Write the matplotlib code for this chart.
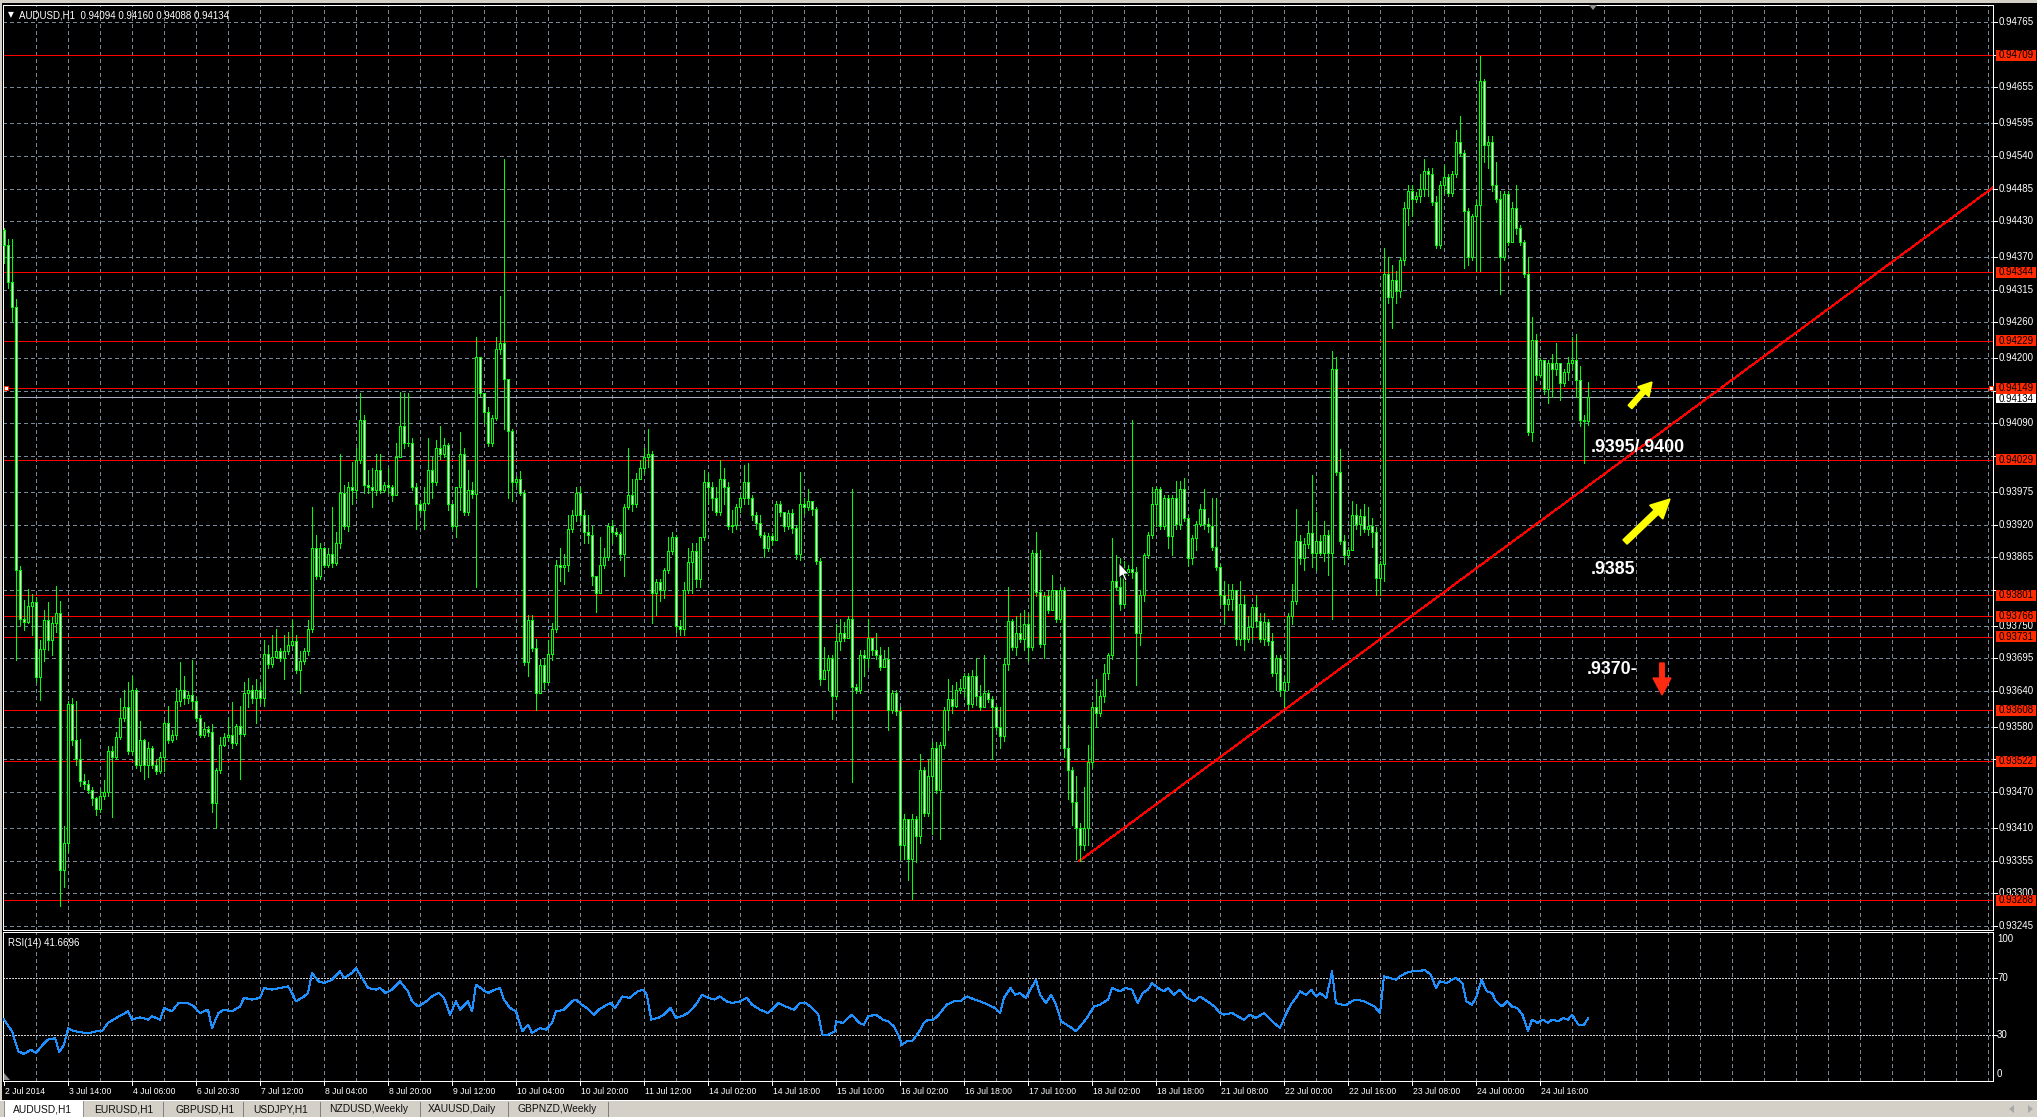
import numpy as np
import matplotlib
matplotlib.use("Agg")
import matplotlib.pyplot as plt
from matplotlib import font_manager
from matplotlib.patches import Rectangle, FancyArrow, Polygon

# ---------------- data ----------------
# prices are given in points above 0.93000  (price = 0.93 + pts / 100000)
first_open_pts = 1415
close_pts = [
    1390, 1328, 1286, 844, 762, 757, 783, 790, 664, 710, 760, 726, 754, 771, 339, 385, 619, 558, 525, 488,
    483, 474, 460, 441, 464, 470, 539, 530, 563, 595, 614, 539, 642, 516, 558, 516, 544, 516, 506, 530,
    586, 558, 567, 623, 642, 628, 633, 624, 595, 567, 577, 572, 451, 507, 549, 563, 567, 553, 581, 568,
    637, 642, 628, 642, 628, 703, 685, 697, 708, 696, 708, 718, 725, 675, 690, 707, 745, 880, 833, 880,
    852, 871, 856, 889, 973, 917, 983, 978, 1029, 1095, 987, 983, 978, 1011, 978, 987, 983, 969, 1034, 1085,
    1057, 1057, 983, 955, 945, 956, 1011, 992, 1048, 1039, 1053, 955, 917, 983, 1039, 941, 978, 971, 1202, 1141,
    1109, 1057, 1099, 1216, 1225, 1164, 1078, 992, 996, 973, 689, 759, 712, 637, 684, 656, 703, 745, 852, 848,
    852, 913, 936, 973, 936, 908, 903, 833, 805, 852, 866, 917, 908, 904, 871, 950, 969, 955, 997, 1015,
    1034, 1039, 805, 824, 810, 843, 875, 899, 749, 745, 810, 857, 876, 829, 899, 992, 983, 964, 941, 997,
    983, 917, 920, 950, 964, 992, 964, 936, 922, 903, 880, 901, 894, 955, 941, 918, 940, 915, 870, 955,
    950, 960, 946, 859, 661, 675, 695, 632, 724, 738, 729, 762, 647, 642, 700, 695, 729, 709, 700, 680,
    694, 608, 637, 607, 381, 425, 357, 425, 396, 507, 435, 497, 545, 473, 550, 608, 627, 615, 642, 646,
    666, 618, 666, 632, 613, 637, 627, 613, 579, 564, 685, 758, 714, 738, 727, 752, 714, 873, 806, 719,
    800, 777, 810, 762, 810, 545, 507, 454, 410, 381, 410, 521, 613, 603, 632, 671, 700, 825, 815, 786,
    840, 845, 840, 738, 801, 868, 902, 955, 979, 917, 965, 900, 965, 921, 980, 931, 864, 898, 921, 946,
    921, 917, 883, 849, 801, 786, 795, 810, 728, 786, 728, 748, 781, 758, 728, 757, 724, 671, 695, 642,
    656, 767, 791, 893, 864, 888, 906, 873, 892, 873, 902, 873, 1182, 1008, 893, 868, 878, 936, 921, 935,
    912, 917, 907, 830, 854, 1341, 1303, 1332, 1312, 1365, 1452, 1481, 1467, 1472, 1485, 1515, 1510, 1462, 1390, 1491,
    1505, 1477, 1510, 1563, 1544, 1448, 1370, 1438, 1457, 1665, 1558, 1563, 1491, 1467, 1370, 1476, 1395, 1452, 1418, 1395,
    1341, 1076, 1230, 1172, 1197, 1148, 1191, 1182, 1192, 1158, 1177, 1192, 1197, 1163, 1095, 1094, 1134,
]
high_pts = [
    1418, 1400, 1400, 1300, 850, 793, 811, 804, 799, 726, 777, 790, 765, 816, 791, 413, 623, 628, 623, 560,
    500, 490, 478, 462, 475, 490, 547, 548, 572, 628, 642, 656, 665, 645, 590, 560, 555, 548, 525, 538,
    590, 615, 575, 645, 689, 665, 640, 693, 630, 600, 588, 582, 585, 510, 563, 570, 594, 622, 585, 615,
    655, 662, 650, 660, 648, 726, 717, 735, 744, 712, 735, 740, 760, 735, 708, 712, 760, 950, 903, 889,
    883, 880, 950, 908, 1039, 987, 992, 1025, 1048, 1141, 1104, 1011, 1015, 1039, 1039, 992, 1015, 987, 1057, 1143,
    1141, 1141, 1066, 990, 962, 983, 1066, 1034, 1062, 1085, 1066, 1057, 955, 983, 1076, 1048, 1011, 992, 1235, 1202,
    1141, 1118, 1104, 1235, 1304, 1535, 1164, 1081, 1001, 1010, 978, 768, 768, 727, 694, 696, 726, 754, 861, 880,
    871, 936, 945, 983, 983, 945, 936, 917, 833, 899, 880, 922, 927, 915, 908, 955, 1048, 997, 1006, 1029,
    1048, 1081, 1044, 829, 829, 847, 899, 908, 903, 760, 824, 880, 889, 889, 899, 1011, 1006, 992, 983, 1029,
    1015, 992, 945, 955, 969, 1020, 1024, 969, 941, 936, 908, 905, 905, 960, 960, 941, 945, 946, 920, 1008,
    965, 979, 960, 950, 864, 714, 700, 700, 752, 762, 757, 767, 979, 652, 709, 709, 762, 729, 738, 714,
    709, 714, 642, 642, 613, 434, 425, 434, 430, 535, 512, 526, 555, 555, 555, 613, 660, 651, 656, 660,
    670, 670, 675, 695, 651, 700, 642, 632, 617, 613, 695, 815, 762, 767, 771, 777, 771, 878, 907, 878,
    806, 810, 835, 810, 815, 815, 583, 512, 497, 418, 478, 549, 622, 661, 642, 685, 704, 897, 868, 863,
    858, 852, 1095, 849, 810, 873, 907, 984, 984, 984, 970, 970, 970, 994, 994, 999, 936, 902, 926, 955,
    979, 931, 965, 965, 854, 825, 820, 820, 810, 825, 801, 767, 786, 801, 772, 772, 762, 738, 700, 700,
    666, 772, 820, 946, 902, 897, 926, 1004, 941, 902, 926, 911, 1211, 1201, 1047, 902, 883, 960, 955, 946,
    955, 950, 931, 916, 859, 1385, 1370, 1356, 1346, 1370, 1462, 1491, 1491, 1480, 1510, 1534, 1520, 1520, 1472, 1497,
    1525, 1510, 1515, 1583, 1607, 1550, 1452, 1443, 1466, 1708, 1669, 1573, 1573, 1530, 1481, 1481, 1481, 1462, 1491, 1423,
    1399, 1370, 1269, 1240, 1200, 1197, 1197, 1206, 1225, 1192, 1182, 1201, 1235, 1240, 1187, 1105, 1160,
]
low_pts = [
    1359, 1317, 1263, 692, 751, 743, 754, 734, 655, 625, 690, 709, 701, 740, 278, 311, 370, 550, 516, 480,
    475, 468, 449, 432, 437, 458, 463, 428, 525, 560, 590, 534, 534, 510, 505, 493, 495, 510, 500, 502,
    505, 552, 555, 560, 615, 618, 620, 610, 590, 562, 563, 565, 437, 409, 502, 548, 556, 545, 550, 493,
    565, 614, 620, 586, 620, 615, 678, 680, 695, 690, 660, 702, 715, 670, 637, 685, 700, 740, 828, 828,
    849, 848, 848, 852, 880, 912, 910, 955, 964, 1024, 973, 973, 950, 969, 973, 975, 973, 960, 969, 1034,
    1048, 1052, 978, 913, 940, 913, 955, 964, 987, 1030, 1034, 945, 913, 899, 945, 936, 936, 964, 815, 1136,
    1090, 1052, 1052, 1095, 1206, 1081, 964, 960, 985, 969, 684, 665, 707, 609, 636, 644, 656, 693, 740, 825,
    820, 842, 908, 926, 926, 889, 889, 819, 773, 805, 847, 861, 889, 900, 861, 833, 946, 942, 950, 997,
    1006, 1016, 754, 768, 792, 796, 838, 871, 740, 735, 735, 805, 805, 815, 815, 894, 955, 945, 936, 936,
    955, 913, 908, 913, 941, 955, 955, 927, 913, 899, 866, 875, 885, 894, 935, 910, 912, 905, 862, 860,
    940, 945, 936, 854, 651, 661, 641, 593, 627, 709, 724, 729, 487, 636, 636, 666, 680, 700, 694, 675,
    680, 574, 603, 600, 357, 357, 323, 290, 352, 385, 430, 430, 400, 468, 391, 545, 574, 603, 613, 637,
    632, 608, 613, 617, 608, 613, 622, 526, 574, 545, 556, 675, 709, 700, 723, 709, 690, 709, 800, 714,
    695, 771, 777, 757, 757, 530, 458, 415, 357, 354, 372, 381, 511, 579, 598, 622, 661, 694, 810, 776,
    781, 835, 830, 651, 718, 791, 864, 897, 917, 912, 912, 880, 868, 912, 912, 926, 850, 854, 878, 917,
    912, 907, 878, 844, 786, 752, 776, 776, 718, 718, 709, 723, 728, 748, 723, 718, 718, 666, 642, 632,
    613, 642, 752, 786, 854, 844, 880, 849, 844, 868, 859, 835, 762, 1004, 888, 854, 864, 878, 912, 902,
    907, 902, 883, 801, 801, 825, 1293, 1250, 1293, 1303, 1356, 1423, 1438, 1462, 1462, 1472, 1472, 1457, 1385, 1385,
    1477, 1472, 1472, 1505, 1539, 1351, 1356, 1365, 1346, 1346, 1530, 1520, 1481, 1462, 1308, 1365, 1390, 1395, 1409, 1390,
    1336, 1071, 1061, 1163, 1168, 1140, 1124, 1134, 1172, 1129, 1153, 1163, 1182, 1134, 1086, 1023, 1088,
]

# RSI(14) readings: bar position -> value
rsi_bar = [0, 2, 3.6, 5, 6.7, 8, 9.7, 11, 12.8, 13.8, 15, 16, 17.4, 19.4, 21.4, 23, 24.5, 26, 28, 31,
           32, 34, 36, 37, 39, 40, 42, 43.6, 46, 47.5, 49, 51, 52, 53.6, 55, 57, 59, 60, 62, 64,
           65, 67, 69, 71, 72, 73, 75, 76, 77, 78.6, 80, 82, 84, 85, 87, 88, 89.5, 91, 93, 94,
           95.4, 97, 99, 101, 102, 103.6, 105.6, 107, 108.7, 110, 111.5, 113, 114, 116, 117, 118, 119.7, 121, 122.7, 124,
           125, 126.5, 128, 129.6, 131, 132, 134, 135.5, 137, 138, 140, 142, 143, 144.4, 145.7, 147.5, 148.7, 150, 151.6, 152.8,
           154.6, 156.4, 158.4, 159.7, 160.7, 161.8, 163.5, 165, 166.6, 168, 169.4, 171, 173, 174.5, 176, 177.6, 179, 180.6, 182, 184,
           185.7, 187, 189, 191, 192, 193.6, 195.4, 197.5, 199, 200.5, 202, 203.6, 204.6, 206, 207.7, 208, 209.7, 211, 212, 213.8,
           215, 216, 218, 219.7, 221, 222.5, 223.5, 224.5, 226, 227, 228.6, 230, 231, 232.4, 233.7, 235.7, 237.5, 239, 240.8, 242.6,
           244, 246, 247.7, 249, 250, 251.6, 252.8, 254, 255.4, 256.6, 258, 259, 260.5, 261.8, 263, 264.3, 265.6, 267, 268, 269.4,
           270.7, 272.5, 274, 276, 277, 279, 280.4, 282, 283.4, 284.7, 286, 287, 288.5, 290, 291, 292.4, 294, 295.7, 297.5, 299,
           300.8, 302.6, 304, 305, 307, 308.4, 310, 311.5, 313, 315, 316.6, 318, 319, 320.4, 321.7, 323, 324, 325.5, 326.8, 328,
           329, 330.6, 332, 333, 334.5, 335.7, 337, 338, 340, 341, 342.6, 344, 345, 346.4, 348, 349, 350.5, 352, 354, 355,
           356.7, 358, 359, 360.7, 362, 363, 364.6, 365.6, 367, 368, 369.4, 370.7, 372, 373, 374.5, 375.8, 377, 378.3, 379.6, 381,
           382, 383.4, 384.7, 386, 387, 388.5, 389.8, 391, 392, 393.6, 395, 396]
rsi_val = [40.9, 32.8, 18.9, 17.0, 20.0, 17.7, 23.5, 27.0, 28.0, 18.4, 23.5, 35.0, 33.0, 32.0, 31.6, 32.8, 32.8, 38.6, 42.0, 46.6,
           40.9, 42.5, 40.9, 43.2, 40.9, 49.0, 46.6, 52.4, 52.4, 50.0, 45.5, 47.8, 35.0, 45.5, 47.8, 46.6, 50.0, 56.0, 54.8, 56.0,
           62.9, 61.7, 62.9, 64.0, 59.4, 53.6, 57.0, 59.4, 73.3, 67.5, 66.3, 68.6, 74.4, 69.8, 73.3, 76.7, 69.8, 62.9, 61.7, 62.9,
           59.4, 61.7, 67.5, 60.5, 53.6, 50.0, 53.6, 57.0, 59.4, 56.0, 44.3, 53.6, 47.8, 53.6, 46.6, 65.2, 61.7, 59.4, 61.7, 62.9,
           54.8, 49.0, 46.6, 32.8, 37.4, 31.6, 35.0, 33.9, 38.6, 46.6, 47.8, 53.6, 54.8, 51.3, 49.0, 44.3, 47.8, 50.0, 52.4, 49.0,
           57.0, 56.0, 60.5, 61.7, 58.2, 40.9, 42.0, 44.3, 49.0, 42.0, 43.2, 45.5, 51.3, 58.2, 56.0, 54.8, 57.0, 53.6, 52.4, 53.6,
           56.0, 51.3, 47.8, 45.5, 47.8, 52.4, 50.0, 47.8, 52.4, 52.4, 49.0, 44.3, 30.5, 30.5, 32.8, 39.7, 38.6, 42.0, 44.3, 38.6,
           37.4, 43.2, 44.3, 40.9, 39.7, 36.2, 30.5, 23.5, 26.3, 25.8, 31.6, 38.6, 40.9, 40.9, 44.3, 51.3, 53.6, 53.6, 57.0, 54.8,
           53.6, 51.3, 49.0, 45.5, 56.0, 62.9, 58.2, 59.4, 56.0, 61.7, 68.6, 58.2, 52.4, 58.2, 51.3, 39.7, 37.4, 35.0, 32.8, 37.4,
           42.0, 50.0, 51.3, 54.8, 62.9, 60.5, 62.9, 61.7, 52.4, 59.4, 61.7, 66.3, 62.9, 60.5, 62.9, 58.2, 61.7, 56.0, 53.6, 57.0,
           53.6, 50.0, 45.5, 44.3, 45.5, 43.2, 40.9, 44.3, 42.0, 45.5, 40.9, 37.4, 35.0, 44.3, 51.3, 56.0, 60.5, 58.2, 61.7, 57.0,
           59.4, 56.0, 74.4, 52.4, 51.3, 51.3, 53.6, 54.8, 53.6, 52.4, 50.0, 45.5, 71.0, 69.8, 68.6, 71.0, 73.3, 74.4, 74.4, 75.6,
           72.1, 62.9, 67.5, 66.3, 68.6, 69.8, 66.3, 53.6, 51.3, 56.0, 68.6, 60.5, 59.4, 53.6, 50.0, 53.6, 50.0, 49.0, 44.3, 32.8,
           40.9, 38.6, 40.9, 38.6, 40.9, 39.7, 42.0, 40.9, 44.3, 37.4, 37.4, 41.7]

price_ticks = [0.94765, 0.94710, 0.94655, 0.94595, 0.94540, 0.94485, 0.94430, 0.94370, 0.94315, 0.94260,
               0.94200, 0.94145, 0.94090, 0.94035, 0.93975, 0.93920, 0.93865, 0.93810, 0.93750, 0.93695,
               0.93640, 0.93580, 0.93525, 0.93470, 0.93410, 0.93355, 0.93300, 0.93245]
level_lines = [0.94709, 0.94344, 0.94229, 0.94149, 0.94029, 0.93801, 0.93766, 0.93731, 0.93608, 0.93522, 0.93288]
bid_price = 0.94134
trend_bars = [268.75, 497.5]
trend_prices = [0.93354, 0.94488]
time_labels = ["2 Jul 2014", "3 Jul 14:00", "4 Jul 06:00", "6 Jul 20:30", "7 Jul 12:00", "8 Jul 04:00",
               "8 Jul 20:00", "9 Jul 12:00", "10 Jul 04:00", "10 Jul 20:00", "11 Jul 12:00", "14 Jul 02:00",
               "14 Jul 18:00", "15 Jul 10:00", "16 Jul 02:00", "16 Jul 18:00", "17 Jul 10:00", "18 Jul 02:00",
               "18 Jul 18:00", "21 Jul 08:00", "22 Jul 00:00", "22 Jul 16:00", "23 Jul 08:00", "24 Jul 00:00",
               "24 Jul 16:00"]
rsi_ticks = ["100", "70", "30", "0"]
header_text = "AUDUSD,H1  0.94094 0.94160 0.94088 0.94134"
rsi_header = "RSI(14) 41.6696"
tab_names = ["AUDUSD,H1", "EURUSD,H1", "GBPUSD,H1", "USDJPY,H1", "NZDUSD,Weekly", "XAUUSD,Daily", "GBPNZD,Weekly"]
note_texts = [".9395/.9400", ".9385", ".9370-"]

# ---------------- setup ----------------
BASE = 0.93
closes = BASE + np.array(close_pts) / 1e5
highs = BASE + np.array(high_pts) / 1e5
lows = BASE + np.array(low_pts) / 1e5
opens = np.concatenate([[BASE + first_open_pts / 1e5], closes[:-1]])
idx = np.arange(len(closes))

avail = {f.name for f in font_manager.fontManager.ttflist}
if "Liberation Sans Narrow" in avail:
    UIF = "Liberation Sans Narrow"
    FS_P, FS_D, FS_T = 8.0, 7.0, 8.6
else:
    UIF = "Liberation Sans"
    FS_P, FS_D, FS_T = 7.0, 6.2, 7.4

W, H = 2037, 1117
fig = plt.figure(figsize=(W / 100, H / 100), dpi=100, facecolor="black")
XMIN, XMAX = -0.25, 497.25
YMIN, YMAX = 0.932383, 0.947936
RMIN, RMAX = -1.74, 101.74
LW = 0.72  # one pixel


def rect(x0, y0, x1, y1):
    return [x0 / W, 1 - y1 / H, (x1 - x0) / W, (y1 - y0) / H]


def price_py(v):
    return 5 + (YMAX - v) / (YMAX - YMIN) * 925


def rsi_py(v):
    return 932 + (RMAX - v) / (RMAX - RMIN) * 149


ax = fig.add_axes(rect(3, 5, 1993, 930), facecolor="black")
rs = fig.add_axes(rect(3, 932, 1993, 1081), facecolor="black")
GRID = "#778899"
for a in (ax, rs):
    a.set_xlim(XMIN, XMAX)
    a.set_xticks([])
    a.set_yticks([])
    for s in a.spines.values():
        s.set_color("white")
        s.set_linewidth(LW)
    for b in range(8, 498, 8):
        a.axvline(b, color=GRID, lw=LW, ls=(0, (3, 3)), antialiased=False, zorder=1)
ax.set_ylim(YMIN, YMAX)
rs.set_ylim(RMIN, RMAX)

for v in price_ticks:
    ax.axhline(v, color=GRID, lw=LW, ls=(0, (3, 3)), antialiased=False, zorder=1)
for v in level_lines:
    ax.axhline(v, color="#ff0000", lw=LW, antialiased=False, zorder=2)
ax.axhline(bid_price, color="#a3adbd", lw=LW, antialiased=False, zorder=2)
ax.plot(trend_bars, trend_prices, color="#ff0000", lw=LW, antialiased=False, zorder=2)

# candles
ax.vlines(idx, lows, highs, color="#00ff00", lw=LW, antialiased=False, zorder=3)
body_lo = np.minimum(opens, closes)
body_h = np.abs(closes - opens)
fills = ["white" if c < o else "black" for o, c in zip(opens, closes)]
ax.bar(idx, body_h, bottom=body_lo, width=0.5, color=fills, edgecolor="#00ff00",
       linewidth=LW, antialiased=False, zorder=4)

# RSI
for lv in (70, 30):
    rs.axhline(lv, color="#d0d0d0", lw=LW, ls=(0, (2, 2)), antialiased=False, zorder=1)
rs.plot(rsi_bar, rsi_val, color="#1e90ff", lw=LW, antialiased=False, zorder=3)

# ---------------- overlay in pixel coordinates ----------------
ov = fig.add_axes([0, 0, 1, 1], zorder=10)
ov.set_xlim(0, W)
ov.set_ylim(H, 0)
ov.axis("off")
ov.patch.set_alpha(0)

ov.add_patch(Rectangle((0, 0), W, 3, facecolor="#d4d0c8", edgecolor="none"))
ov.add_patch(Rectangle((0, 0), 1.5, H, facecolor="#d4d0c8", edgecolor="none"))

# right price scale (labels hidden behind a line's price box are not drawn)
for v in price_ticks:
    py = price_py(v)
    ov.plot([1993, 1997], [py, py], color="white", lw=LW, antialiased=False)
    if min(abs(v - l) for l in level_lines + [bid_price]) < 0.000105:
        continue
    ov.text(1999, py, f"{v:.5f}", color="white", fontsize=FS_P, family=UIF, va="center", ha="left")
pb = price_py(bid_price)
ov.add_patch(Rectangle((1996, pb - 5), 40, 11, facecolor="white", edgecolor="none", zorder=5))
ov.text(1999, pb + 1.5, f"{bid_price:.5f}", color="black", fontsize=FS_P, family=UIF, va="center", zorder=6)
for v in level_lines:
    py = price_py(v)
    ov.add_patch(Rectangle((1996, py - 5.5), 40, 11, facecolor="#ff2a00", edgecolor="none", zorder=7))
    ov.text(1999, py, f"{v:.5f}", color="black", fontsize=FS_P, family=UIF, va="center", zorder=8)

# selected-line markers
ps = price_py(0.94149)
for xm in (4, 1988.5):
    ov.add_patch(Rectangle((xm, ps - 2), 4, 4, facecolor="white", edgecolor="#ff2a00", lw=LW, zorder=9))

# header texts
ov.text(8, 15, "\u25bc", color="white", fontsize=5.5, family="DejaVu Sans", va="center")
ov.text(19, 15, header_text, color="white", fontsize=FS_P, family=UIF, va="center")
ov.text(8, 943, rsi_header, color="white", fontsize=FS_P, family=UIF, va="center")
ov.add_patch(Polygon([(1589, 5), (1597, 5), (1593, 10)], closed=True, facecolor="#909090", edgecolor="none"))
ov.add_patch(Polygon([(4, 1080), (4, 1073), (10, 1080)], closed=True, facecolor="#909090", edgecolor="none"))

# RSI scale
rsi_pos = [939, 978, 1035, 1074]
for lab, py in zip(rsi_ticks, rsi_pos):
    ov.text(1997, py, lab, color="white", fontsize=FS_P, family=UIF, va="center")
for lv in (70, 30):
    py = rsi_py(lv)
    ov.plot([1993, 1997], [py, py], color="white", lw=LW, antialiased=False)

# time scale
for k, lab in enumerate(time_labels):
    px = 4 + 4 * 16 * k
    ov.plot([px, px], [1081, 1085], color="white", lw=LW, antialiased=False)
    ov.text(px + 1, 1091, lab, color="white", fontsize=FS_D, family=UIF, va="center", ha="left")

# tab bar
ov.plot([0, W], [1099.5, 1099.5], color="white", lw=LW, antialiased=False)
ov.add_patch(Rectangle((0, 1100), W, 17, facecolor="#d4d0c8", edgecolor="none"))
ov.add_patch(Rectangle((4, 1100), 79, 17, facecolor="white", edgecolor="#808080", lw=0.6))
tab_x = [13, 94, 175, 253, 329, 428, 518]
for name, tx in zip(tab_names, tab_x):
    ov.text(tx, 1109, name, color="#101010", fontsize=FS_T, family=UIF, va="center")
for sx in [163, 243, 320, 420, 508, 608]:
    ov.plot([sx, sx], [1102, 1116], color="#808080", lw=LW, antialiased=False)
ov.add_patch(Polygon([(2009, 1109), (2014, 1105), (2014, 1113)], closed=True, facecolor="#a8a8a8", edgecolor="none"))
ov.add_patch(Polygon([(2033, 1109), (2028, 1105), (2028, 1113)], closed=True, facecolor="#a8a8a8", edgecolor="none"))

# mouse cursor
ov.add_patch(Polygon([(1119, 563), (1119, 578), (1122.5, 575), (1125, 581), (1127, 580), (1124.5, 574), (1129, 574)],
                     closed=True, facecolor="white", edgecolor="black", lw=0.6, zorder=9))

# annotations
note_pos = [(1591, 447), (1591, 570), (1587, 670)]
for t, (nx, ny) in zip(note_texts, note_pos):
    ov.text(nx, ny, t, color="white", fontsize=12.8, family="Liberation Sans", fontweight="bold",
            va="center", ha="left", zorder=9)
ov.add_patch(FancyArrow(1630, 407, 22, -25, width=5, head_width=15, head_length=13,
                        length_includes_head=True, color="#ffff00", zorder=9))
ov.add_patch(FancyArrow(1625, 542, 45, -43, width=6, head_width=19, head_length=19,
                        length_includes_head=True, color="#ffff00", zorder=9))
ov.add_patch(FancyArrow(1662, 663, 0, 32, width=4.5, head_width=18, head_length=17,
                        length_includes_head=True, color="#ff2a10", zorder=9))

fig.savefig("out.png", dpi=100, facecolor="black")
